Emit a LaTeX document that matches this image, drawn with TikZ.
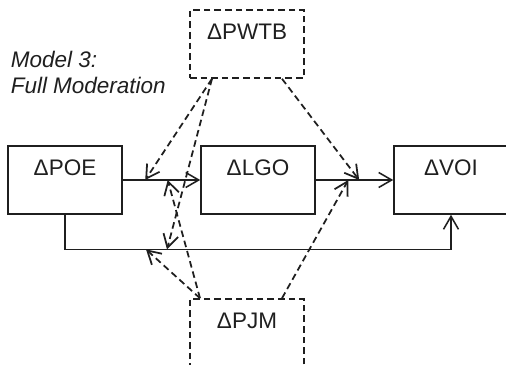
\documentclass[tikz,border=0pt]{standalone}
\usepackage{fontspec}
\setmainfont{Liberation Sans}
\usetikzlibrary{arrows.meta,calc}
\begin{document}
\begin{tikzpicture}[>={Straight Barb[length=6.5mm,width=7.5mm]},line width=2.2pt,color=black!88,
        var/.style={draw,minimum width=5.7cm,inner ysep=0.65cm,text height=0.81cm,text depth=1.29cm,font=\fontsize{32}{38}\selectfont},
        moderator/.style={var,dash pattern=on 0.33cm off 0.2cm},
        modarrow/.style={->,line width=2.5pt,dash pattern=on 0.33cm off 0.2cm}]
                \useasboundingbox (0,0) rectangle (25.3,18.25);
                \node[anchor=north west,inner sep=0,align=left,font=\fontsize{32}{37}\selectfont\itshape] (title) at (0.5,15.75) {Model 3:\\Full Moderation};
                \node[var] (POE) at (3.25,9.25) {ΔPOE};
                \node[var] (LGO) at (12.9,9.25) {ΔLGO};
                \node[var] (VOI) at (22.55,9.25) {ΔVOI};
                \node[moderator] (PWTB) at (12.35,16.05) {ΔPWTB};
                \node[moderator] (PJM) at (12.35,1.6) {ΔPJM};
                % direct paths
                \draw[->] (POE) -- (LGO);
                \draw[->] (LGO) -- (VOI);
                \draw[->] (POE.south) -- ++(0,-1.73) coordinate (low) -| (VOI.south);
                % points the moderators hit
                \coordinate (p1) at ($(POE.east)!0.29!(LGO.west)$);
                \coordinate (p2) at ($(POE.east)!0.58!(LGO.west)$);
                \coordinate (r1) at ($(LGO.east)!0.42!(VOI.west)$);
                \coordinate (r2) at ($(LGO.east)!0.56!(VOI.west)$);
                \coordinate (q1) at ($(low)+(4.05,0)$);
                \coordinate (q2) at ($(low)+(5.1,0)$);
                % moderation
                \draw[modarrow] ([xshift=-1.75cm]PWTB.south) -- (p1);
                \draw[modarrow] ([xshift=-1.75cm]PWTB.south) -- (q2);
                \draw[modarrow] ([xshift=1.75cm]PWTB.south) -- (r2);
                \draw[modarrow] ([xshift=-2.35cm]PJM.north) -- (q1);
                \draw[modarrow] ([xshift=-2.35cm]PJM.north) -- (p2);
                \draw[modarrow] ([xshift=1.75cm]PJM.north) -- (r1);
            \end{tikzpicture}
\end{document}
